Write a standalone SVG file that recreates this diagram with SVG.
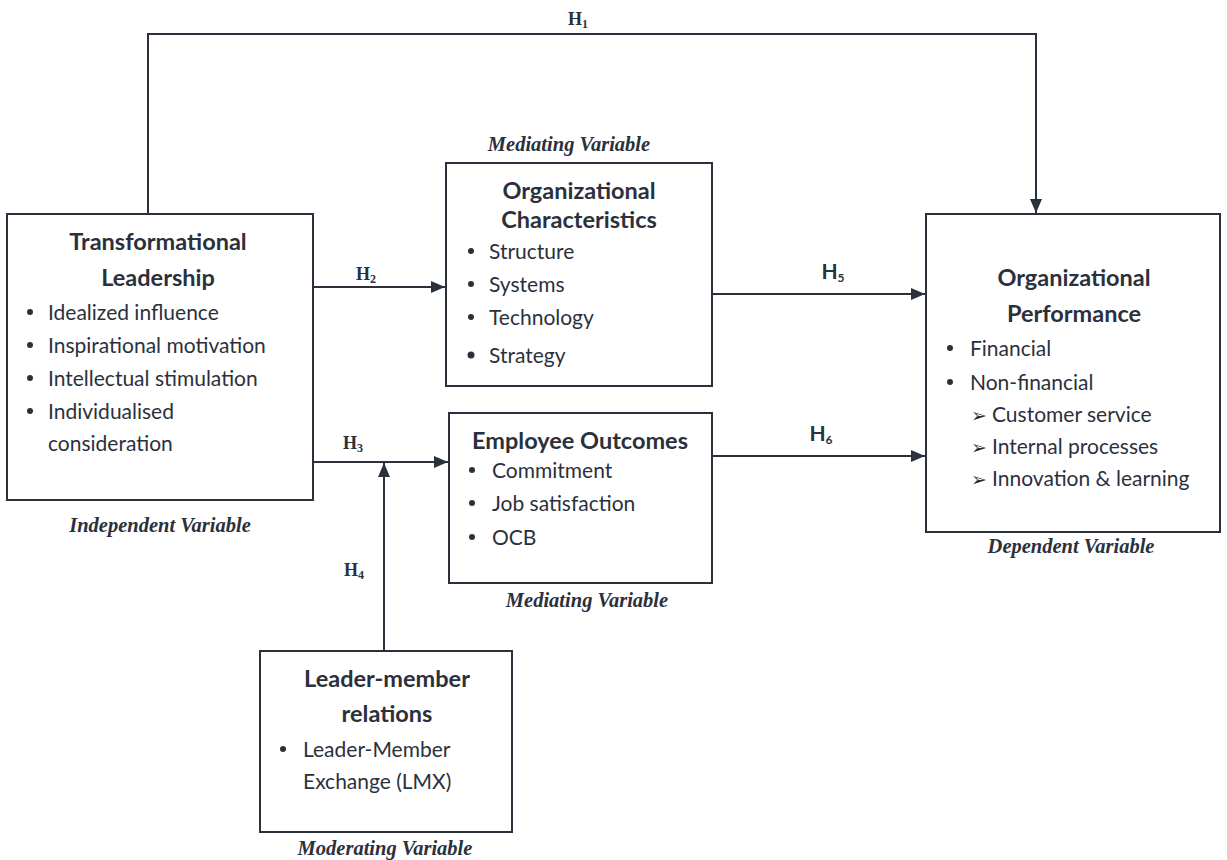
<svg xmlns="http://www.w3.org/2000/svg" width="1227" height="860" viewBox="0 0 1227 860">
<defs>
<marker id="ah" viewBox="0 0 14 12" refX="14" refY="6" markerWidth="14" markerHeight="12" markerUnits="userSpaceOnUse" orient="auto">
<path d="M0,0 L14,6 L0,12 Z" fill="#2b313c"/>
</marker>
</defs>
<style>
.box{fill:#fff;stroke:#2b313c;stroke-width:2}
.ttl{font-family:Lato,"Liberation Sans",sans-serif;font-weight:bold;font-size:23.5px;fill:#2b313c;text-anchor:middle}
.itm{font-family:Lato,"Liberation Sans",sans-serif;font-size:21px;fill:#2b313c}
.dot{fill:#2b313c}
.var{font-family:"Liberation Serif",serif;font-weight:bold;font-style:italic;font-size:20.5px;fill:#2b313c;text-anchor:middle}
.hl{font-family:"Liberation Serif",serif;font-weight:bold;font-size:18px;fill:#2b313c;text-anchor:middle}
.hc{font-family:Lato,"Liberation Sans",sans-serif;font-weight:bold;font-size:21px;fill:#2b313c;text-anchor:middle}
.sub{font-size:12px}
.con{fill:none;stroke:#2b313c;stroke-width:2}
.chev{font-family:"DejaVu Sans",sans-serif;font-size:19px}
</style>
<rect width="1227" height="860" fill="#fff"/>

<g id="connectors">
<path class="con" d="M148,214 V34 H1036 V213" marker-end="url(#ah)"/>
<path class="con" d="M313,287 H445" marker-end="url(#ah)"/>
<path class="con" d="M313,462 H448" marker-end="url(#ah)"/>
<path class="con" d="M384,651 V463" marker-end="url(#ah)"/>
<path class="con" d="M712,294 H925" marker-end="url(#ah)"/>
<path class="con" d="M712,456 H925" marker-end="url(#ah)"/>
<text class="hl" x="578" y="25">H<tspan class="sub" dy="3">1</tspan></text>
<text class="hl" x="366" y="280">H<tspan class="sub" dy="3">2</tspan></text>
<text class="hl" x="353" y="449">H<tspan class="sub" dy="3">3</tspan></text>
<text class="hl" x="354" y="576">H<tspan class="sub" dy="3">4</tspan></text>
<text class="hc" x="833" y="279">H<tspan class="sub" font-size="14" dy="3">5</tspan></text>
<text class="hc" x="821" y="441">H<tspan class="sub" font-size="14" dy="3">6</tspan></text>
</g>

<g id="transformational-leadership">
<rect class="box" x="7" y="214" width="306" height="286"/>
<text class="ttl" x="158" y="249.5">Transformational</text>
<text class="ttl" x="158" y="285.5">Leadership</text>
<circle class="dot" cx="30" cy="312" r="3"/>
<text class="itm" x="48" y="319.5">Idealized influence</text>
<circle class="dot" cx="30" cy="345" r="3"/>
<text class="itm" x="48" y="352.5">Inspirational motivation</text>
<circle class="dot" cx="30" cy="378" r="3"/>
<text class="itm" x="48" y="385.5">Intellectual stimulation</text>
<circle class="dot" cx="30" cy="411" r="3"/>
<text class="itm" x="48" y="418.5">Individualised</text>
<text class="itm" x="48" y="450.5">consideration</text>
<text class="var" x="160" y="532">Independent Variable</text>
</g>

<g id="organizational-characteristics">
<text class="var" x="569" y="151">Mediating Variable</text>
<rect class="box" x="446" y="163" width="266" height="223"/>
<text class="ttl" x="579" y="198.5">Organizational</text>
<text class="ttl" x="579" y="227.5">Characteristics</text>
<circle class="dot" cx="471" cy="251" r="3"/>
<text class="itm" x="489" y="258.5">Structure</text>
<circle class="dot" cx="471" cy="284" r="3"/>
<text class="itm" x="489" y="291.5">Systems</text>
<circle class="dot" cx="471" cy="317" r="3"/>
<text class="itm" x="489" y="324.5">Technology</text>
<circle class="dot" cx="471" cy="355" r="3.5"/>
<text class="itm" x="489" y="363">Strategy</text>
</g>

<g id="employee-outcomes">
<rect class="box" x="449" y="413" width="263" height="170"/>
<text class="ttl" x="580" y="448.5">Employee Outcomes</text>
<circle class="dot" cx="472" cy="470" r="3"/>
<text class="itm" x="492" y="477.5">Commitment</text>
<circle class="dot" cx="472" cy="503" r="3"/>
<text class="itm" x="492" y="510.5">Job satisfaction</text>
<circle class="dot" cx="472" cy="537" r="3"/>
<text class="itm" x="492" y="544.5">OCB</text>
<text class="var" x="587" y="607">Mediating Variable</text>
</g>

<g id="organizational-performance">
<rect class="box" x="926" y="214" width="294" height="318"/>
<text class="ttl" x="1074" y="286">Organizational</text>
<text class="ttl" x="1074" y="321.5">Performance</text>
<circle class="dot" cx="950" cy="348" r="3"/>
<text class="itm" x="970" y="355.5">Financial</text>
<circle class="dot" cx="950" cy="382" r="3"/>
<text class="itm" x="970" y="389.5">Non-financial</text>
<text class="itm" x="971" y="421.5"><tspan class="chev">➢</tspan><tspan x="992">Customer service</tspan></text>
<text class="itm" x="971" y="453.5"><tspan class="chev">➢</tspan><tspan x="992">Internal processes</tspan></text>
<text class="itm" x="971" y="485.5"><tspan class="chev">➢</tspan><tspan x="992">Innovation &amp; learning</tspan></text>
<text class="var" x="1071" y="553">Dependent Variable</text>
</g>

<g id="leader-member-relations">
<rect class="box" x="260" y="651" width="252" height="181"/>
<text class="ttl" x="387" y="686.5">Leader-member</text>
<text class="ttl" x="387" y="721.5">relations</text>
<circle class="dot" cx="283" cy="749" r="3"/>
<text class="itm" x="303" y="756.5">Leader-Member</text>
<text class="itm" x="303" y="788.5">Exchange (LMX)</text>
<text class="var" x="385" y="855">Moderating Variable</text>
</g>
</svg>
